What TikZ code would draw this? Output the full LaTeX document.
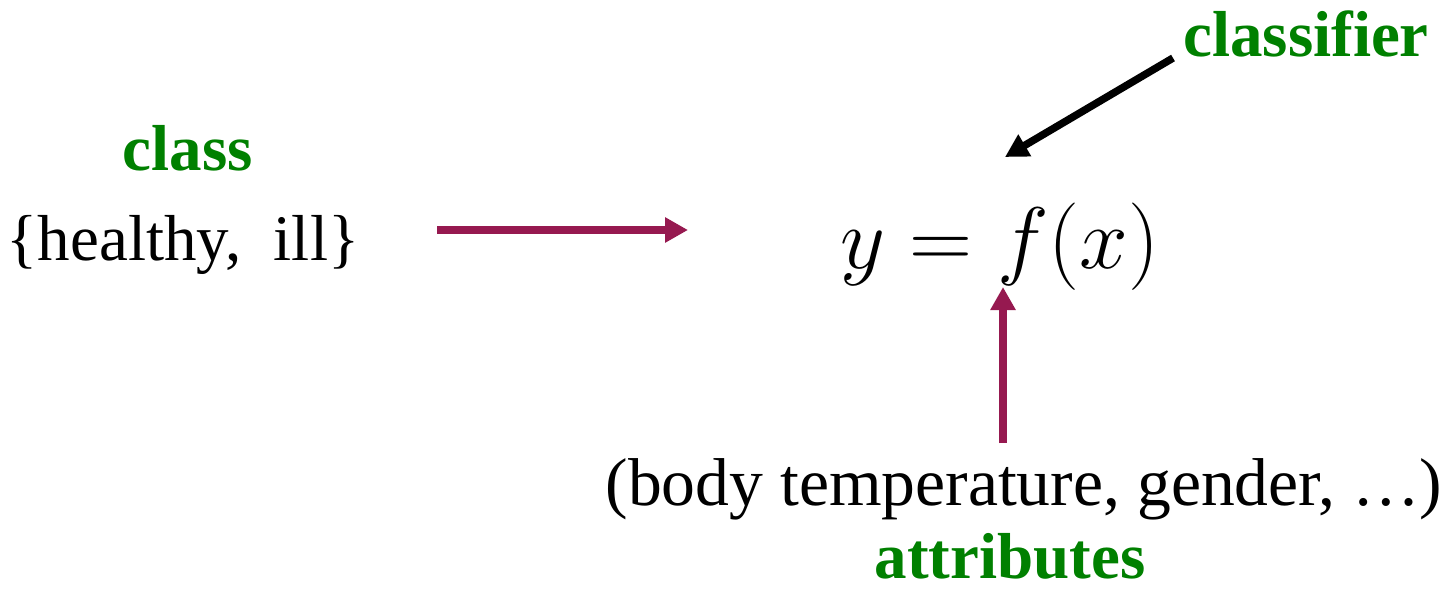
\documentclass[tikz,border=0pt]{standalone}
\usepackage{fontspec}
\setmainfont{Liberation Serif}
\usepackage{tikz}
\usetikzlibrary{arrows.meta}
\usepackage{xcolor}
\definecolor{plum}{RGB}{150,25,80}
\definecolor{leaf}{RGB}{0,128,0}

\begin{document}
\begin{tikzpicture}[x=0.02cm, y=-0.02cm, >={Triangle[length=0.46cm, width=0.48cm]},
  txt/.style={inner sep=0pt, anchor=base, font=\fontsize{37}{42}\selectfont},
  tag/.style={txt, text=leaf, font=\fontsize{37}{42}\selectfont\bfseries},
  feed/.style={->, line width=0.15cm, draw=plum},
  point/.style={->, line width=0.15cm, draw=black}
]
\useasboundingbox (0,0) rectangle (1452,589);
\node[tag] (clf) at (1306,56) {classifier};
\node[tag] (cls) at (188,170) {class};
\node[txt] (vals) at (183,260) {\{healthy,\ \ ill\}};
\node[txt, font=\fontsize{24.88}{30}\selectfont] (eq) at (1000,268) {\scalebox{2}{$y = f(x)$}};
\node[txt, font=\fontsize{38.5}{44}\selectfont] (attr) at (1024,505) {(body temperature, gender, \dots)};
\node[tag] (atg) at (1010,578) {attributes};
\coordinate (c0) at (1173,58);
\coordinate (c1) at (1005,157);
\coordinate (v0) at (437,230);
\coordinate (v1) at (688,230);
\coordinate (a0) at (1003,443);
\coordinate (a1) at (1003,287);
\draw[point] (c0) -- (c1);
\draw[feed] (v0) -- (v1);
\draw[feed] (a0) -- (a1);
\end{tikzpicture}
\end{document}
